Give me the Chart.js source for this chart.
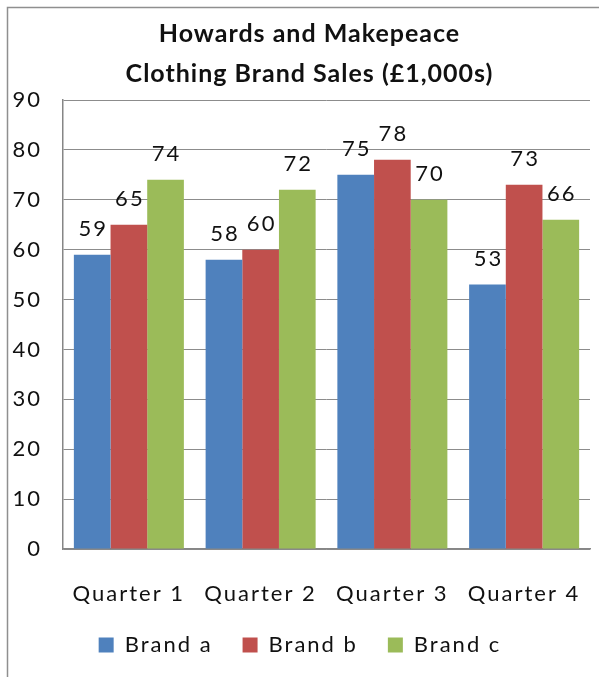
<!DOCTYPE html>
<html><head><meta charset="utf-8">
<script src="https://cdn.jsdelivr.net/npm/chart.js@4.4.1/dist/chart.umd.min.js"></script>
<style>html,body{margin:0;padding:0;background:#fff}canvas{display:block}</style>
</head><body>
<canvas id="c" width="599" height="677"></canvas>
<script>
const categories = ['Quarter 1', 'Quarter 2', 'Quarter 3', 'Quarter 4'];
const seriesNames = ['Brand a', 'Brand b', 'Brand c'];
const brandA = [59, 58, 75, 53];
const brandB = [65, 60, 78, 73];
const brandC = [74, 72, 70, 66];
const titleLines = ['Howards and Makepeace', 'Clothing Brand Sales (£1,000s)'];
const yMin = 0, yMax = 90, yStep = 10;

const FONT = 'Lato';
const SPACING = '2px';

const framePlugin = {
  id: 'frame',
  beforeLayout(chart) { chart.ctx.letterSpacing = SPACING; },
  beforeDraw(chart) {
    const ctx = chart.ctx;
    ctx.letterSpacing = SPACING;
    ctx.save();
    ctx.strokeStyle = '#8f8f8f';
    ctx.lineWidth = 1.5;
    ctx.beginPath();
    ctx.moveTo(7.5, 677);
    ctx.lineTo(7.5, 7.5);
    ctx.lineTo(599, 7.5);
    ctx.stroke();
    // chart title (two lines)
    ctx.font = 'bold 25px ' + FONT;
    ctx.letterSpacing = '1px';
    ctx.fillStyle = '#111';
    ctx.textAlign = 'center';
    ctx.textBaseline = 'alphabetic';
    ctx.fillText(titleLines[0], 309.5, 42);
    ctx.fillText(titleLines[1], 309.5, 82);
    ctx.restore();
    ctx.letterSpacing = SPACING;
  }
};

const valueLabels = {
  id: 'valueLabels',
  afterDatasetsDraw(chart) {
    const ctx = chart.ctx;
    ctx.save();
    ctx.font = '22px ' + FONT;
    ctx.letterSpacing = SPACING;
    ctx.fillStyle = '#111';
    ctx.textAlign = 'center';
    ctx.textBaseline = 'middle';
    chart.data.datasets.forEach((ds, i) => {
      chart.getDatasetMeta(i).data.forEach((el, j) => {
        ctx.fillText(String(ds.data[j]), el.x + 1, el.y - 26);
      });
    });
    ctx.restore();
  }
};

const colors = ['#4F81BD', '#C0504D', '#9BBB59'];
const values = [brandA, brandB, brandC];

new Chart(document.getElementById('c'), {
  type: 'bar',
  data: {
    labels: categories,
    datasets: seriesNames.map((n, i) => ({
      label: n,
      data: values[i],
      backgroundColor: colors[i],
      borderWidth: 0,
      categoryPercentage: 0.835,
      barPercentage: 1.0
    }))
  },
  options: {
    responsive: false,
    animation: false,
    devicePixelRatio: 1,
    layout: { padding: { left: 10, right: 9, top: 100, bottom: 11 } },
    plugins: {
      tooltip: { enabled: false },
      title: { display: false },
      legend: {
        position: 'bottom',
        maxHeight: 75,
        labels: {
          boxWidth: 15, boxHeight: 15, padding: 30,
          color: '#111',
          font: { family: FONT, size: 22 }
        }
      }
    },
    scales: {
      x: {
        grid: { display: false, drawTicks: true, tickLength: 32 },
        border: { color: '#868686', width: 1.5 },
        ticks: { color: '#111', font: { family: FONT, size: 22 }, padding: 0 },
        afterFit(s) { s.height = 55; }
      },
      y: {
        min: yMin, max: yMax,
        grid: { color: '#8c8c8c', drawTicks: false },
        border: { color: '#868686', width: 1.5 },
        ticks: { stepSize: yStep, color: '#111', font: { family: FONT, size: 22 }, padding: 21 },
        afterFit(s) { s.width = 53; }
      }
    }
  },
  plugins: [framePlugin, valueLabels]
});
</script>
</body></html>
